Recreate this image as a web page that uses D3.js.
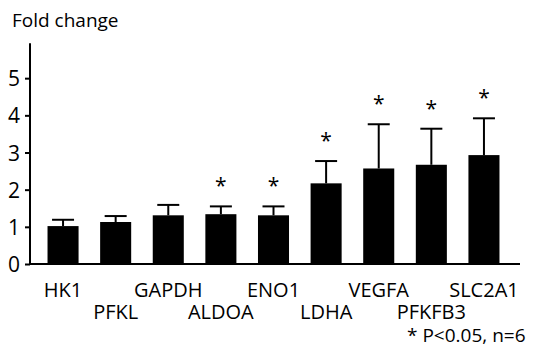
<!DOCTYPE html>
<html>
<head>
<meta charset="utf-8">
<script src="https://cdn.jsdelivr.net/npm/d3@7"></script>
<style>
  body { margin: 0; background: #fff; }
  text { font-family: "Open Sans", "DejaVu Sans", sans-serif; fill: #000; }
</style>
</head>
<body>
<div id="chart"></div>
<script>
//////////////////////////////////////////////////////////////////////////////
// Data

var genes   = ["HK1", "PFKL", "GAPDH", "ALDOA", "ENO1", "LDHA", "VEGFA", "PFKFB3", "SLC2A1"];
var means   = [1.02, 1.13, 1.31, 1.34, 1.31, 2.17, 2.57, 2.67, 2.93];
var errTops = [1.19, 1.29, 1.59, 1.55, 1.55, 2.77, 3.76, 3.64, 3.92];
var signif  = [false, false, false, true, true, true, true, true, true];
var yTicks  = [0, 1, 2, 3, 4, 5];

//////////////////////////////////////////////////////////////////////////////

var width = 533, height = 348;

var data = genes.map(function(g, i) {
    return { gene: g, mean: means[i], err: errTops[i], sig: signif[i], row: i % 2 };
});

var xScale = d3.scaleBand().domain(genes)
    .range([37, 510]).paddingInner(0.41).paddingOuter(0.2);
var yScale = d3.scaleLinear().domain([0, 6]).range([264, 41]);

var svg = d3.select("#chart")
    .append("svg")
    .attr("width", width)
    .attr("height", height);

// y axis
var yAxis = svg.append("g")
    .attr("transform", "translate(30,0)")
    .call(d3.axisLeft(yScale).tickValues(yTicks).tickFormat(d3.format("d"))
        .tickSize(5).tickPadding(5));
yAxis.select(".domain")
    .attr("d", "M0," + yScale(5.94) + "V" + yScale(0))
    .attr("stroke-width", 2);
yAxis.selectAll(".tick line").attr("stroke-width", 2);
yAxis.selectAll(".tick text")
    .style("font-size", "21px")
    .attr("dy", "0.36em");

// x axis line
svg.append("line")
    .attr("x1", 29).attr("x2", 520)
    .attr("y1", yScale(0)).attr("y2", yScale(0))
    .attr("stroke", "#000").attr("stroke-width", 2);

// bars
svg.append("g")
    .selectAll("rect")
    .data(data)
    .enter()
    .append("rect")
    .attr("x", function(d) { return xScale(d.gene); })
    .attr("y", function(d) { return yScale(d.mean); })
    .attr("width", xScale.bandwidth())
    .attr("height", function(d) { return yScale(0) - yScale(d.mean); })
    .attr("fill", "#000");

// error bars
var eb = svg.append("g")
    .selectAll("g")
    .data(data)
    .enter()
    .append("g")
    .attr("transform", function(d) {
        return "translate(" + (xScale(d.gene) + xScale.bandwidth() / 2) + ",0)";
    });
eb.append("line")
    .attr("x1", 0).attr("x2", 0)
    .attr("y1", function(d) { return yScale(d.mean); })
    .attr("y2", function(d) { return yScale(d.err); })
    .attr("stroke", "#000").attr("stroke-width", 2);
eb.append("line")
    .attr("x1", -11).attr("x2", 11)
    .attr("y1", function(d) { return yScale(d.err); })
    .attr("y2", function(d) { return yScale(d.err); })
    .attr("stroke", "#000").attr("stroke-width", 2);

// significance stars
svg.append("g")
    .selectAll("text")
    .data(data.filter(function(d) { return d.sig; }))
    .enter()
    .append("text")
    .attr("x", function(d) { return xScale(d.gene) + xScale.bandwidth() / 2; })
    .attr("y", function(d) { return yScale(d.err) - 13; })
    .attr("text-anchor", "middle")
    .style("font-size", "21px")
    .text("*");

// gene labels, staggered in two rows
svg.append("g")
    .selectAll("text")
    .data(data)
    .enter()
    .append("text")
    .attr("x", function(d) { return xScale(d.gene) + xScale.bandwidth() / 2; })
    .attr("y", function(d) { return d.row === 0 ? 297 : 319; })
    .attr("text-anchor", "middle")
    .style("font-size", "20px")
    .text(function(d) { return d.gene; });

// titles
svg.append("text")
    .attr("x", 12).attr("y", 27)
    .style("font-size", "19px")
    .text("Fold change");

svg.append("text")
    .attr("x", 407).attr("y", 342)
    .style("font-size", "19px")
    .text("* P<0.05, n=6");
</script>
</body>
</html>
